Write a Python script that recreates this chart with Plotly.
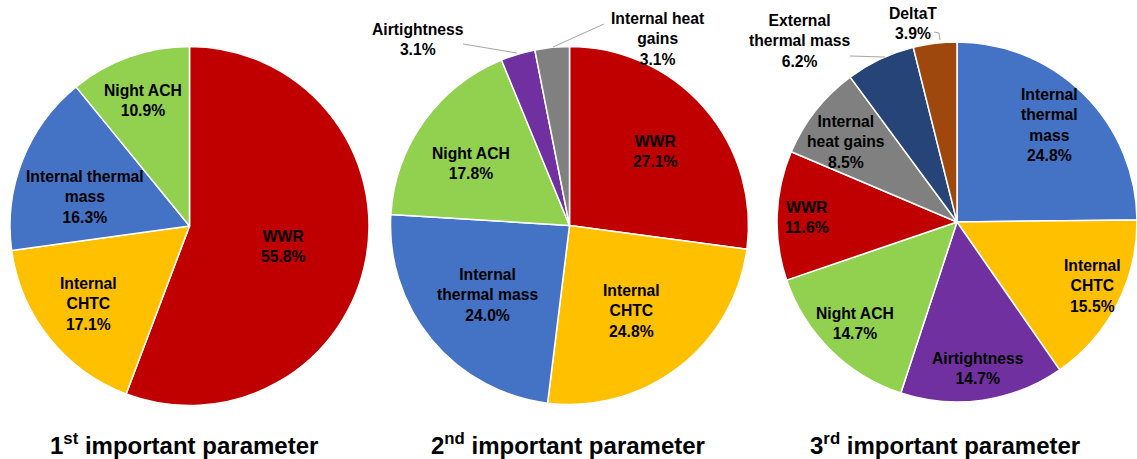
import plotly.graph_objects as go

W, H = 1137, 459

# ---------------- data ----------------
labels1 = ["WWR", "Internal CHTC", "Internal thermal mass", "Night ACH"]
values1 = [55.8, 17.1, 16.3, 10.9]
text1 = ["WWR", "Internal<br>CHTC", "Internal thermal<br>mass", "Night ACH"]

labels2 = ["WWR", "Internal CHTC", "Internal thermal mass", "Night ACH",
           "Airtightness", "Internal heat gains"]
values2 = [27.1, 24.8, 24.0, 17.8, 3.1, 3.1]
text2 = ["WWR", "Internal<br>CHTC", "Internal<br>thermal mass", "Night ACH",
         "Airtightness", "Internal heat<br>gains"]

labels3 = ["Internal thermal mass", "Internal CHTC", "Airtightness", "Night ACH",
           "WWR", "Internal heat gains", "External thermal mass", "DeltaT"]
values3 = [24.8, 15.5, 14.7, 14.7, 11.6, 8.5, 6.2, 3.9]
text3 = ["Internal<br>thermal<br>mass", "Internal<br>CHTC", "Airtightness", "Night ACH",
         "WWR", "Internal<br>heat gains", "External<br>thermal mass", "DeltaT"]

titles = ["1<sup>st</sup> important parameter",
          "2<sup>nd</sup> important parameter",
          "3<sup>rd</sup> important parameter"]

colors = {
    "WWR": "#C00000",
    "Internal CHTC": "#FFC000",
    "Internal thermal mass": "#4472C4",
    "Night ACH": "#92D050",
    "Airtightness": "#7030A0",
    "Internal heat gains": "#808080",
    "External thermal mass": "#264478",
    "DeltaT": "#9E480E",
}

# ---------------- layout (pixel positions) ----------------
pie_geom = [(189.5, 226.0, 179.5), (569.5, 225.5, 179.0), (957.0, 222.0, 180.0)]
label_pos = [
    [(283, 246), (88, 304), (85, 197), (143, 100)],
    [(655, 151), (631, 311), (487, 295), (471, 163), (418, 39), (658, 39)],
    [(1049, 125), (1092, 286), (978, 368), (855, 323), (807, 218), (846, 142),
     (799, 41), (913, 23)],
]
title_pos = [(184, 444), (568, 444), (945, 444)]
leaders = [
    [(463, 44), (517, 53)],
    [(604, 24), (553, 47)],
    [(850, 56), (885, 57)],
    [(934, 32), (939, 33), (940, 40)],
]

FONT = "Liberation Sans, Arial, sans-serif"


def px(x, y):
    return x / W, 1 - y / H


fig = go.Figure()
datasets = [(labels1, values1, text1), (labels2, values2, text2), (labels3, values3, text3)]
annotations = []
for i, ((labs, vals, txts), (cx, cy, r)) in enumerate(zip(datasets, pie_geom)):
    x0 = max(0.0, (cx - r) / W)
    x1 = min(1.0, (cx + r) / W)
    y0 = 1 - (cy + r) / H
    y1 = 1 - (cy - r) / H
    fig.add_trace(go.Pie(
        labels=labs, values=vals, sort=False, direction="clockwise", rotation=0,
        marker=dict(colors=[colors[l] for l in labs], line=dict(color="white", width=1.5)),
        textinfo="none", hoverinfo="label+percent", showlegend=False,
        domain=dict(x=[x0, x1], y=[y0, y1]),
    ))
    for t, v, (lx, ly) in zip(txts, vals, label_pos[i]):
        ax, ay = px(lx, ly)
        annotations.append(dict(
            x=ax, y=ay, xref="paper", yref="paper", showarrow=False,
            text=f"<b>{t}<br>{v:.1f}%</b>", align="center",
            xanchor="center", yanchor="middle",
            font=dict(family=FONT, size=15.7, color="black"),
        ))
    tx, ty = px(*title_pos[i])
    annotations.append(dict(
        x=tx, y=ty, xref="paper", yref="paper", showarrow=False,
        text=f"<b>{titles[i]}</b>", xanchor="center", yanchor="middle",
        font=dict(family=FONT, size=24, color="black"),
    ))

shapes = []
for pts in leaders:
    path = "M " + " L ".join(f"{x/W},{1 - y/H}" for x, y in pts)
    shapes.append(dict(type="path", xref="paper", yref="paper", path=path,
                       line=dict(color="#A6A6A6", width=1)))

fig.update_layout(
    width=W, height=H, margin=dict(l=0, r=0, t=0, b=0),
    paper_bgcolor="white", plot_bgcolor="white",
    annotations=annotations, shapes=shapes,
    font=dict(family=FONT),
)

fig.write_html("out.html", config={"displayModeBar": False},
               post_script="document.body.style.margin='0px';document.body.style.overflow='hidden';")
